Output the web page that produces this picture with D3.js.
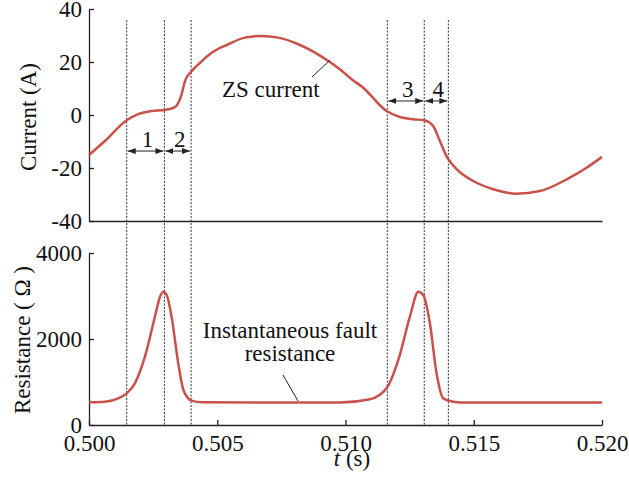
<!DOCTYPE html>
<html>
<head>
<meta charset="utf-8">
<script src="https://cdn.jsdelivr.net/npm/d3@7"></script>
<style>
  body { margin: 0; background: #fff; }
</style>
</head>
<body>
<div id="vis"></div>
<script>
/* data: zero-sequence current (A) */
let currentT = [0.5000, 0.50062, 0.50147, 0.50192, 0.50244, 0.50294, 0.50335, 0.50361,
  0.50374, 0.50398, 0.50433, 0.50478, 0.50543, 0.50608, 0.50673, 0.50738, 0.50816,
  0.50933, 0.50979, 0.51024, 0.51069, 0.51160, 0.51212, 0.51264, 0.51307, 0.51342,
  0.51368, 0.51397, 0.51434, 0.51498, 0.51576, 0.51667, 0.51758, 0.51862, 0.51940, 0.52000];
let currentA = [-15.1, -9.8, -2.0, 0.3, 1.5, 1.9, 3.0, 7.8,
  12.8, 16.3, 19.7, 23.5, 26.7, 29.2, 29.8, 29.2, 26.7,
  20.4, 17.2, 13.5, 10.3, 1.5, -0.75, -1.6, -2.0, -4.2,
  -9.8, -16.1, -20.5, -24.9, -28.0, -29.7, -28.7, -24.3, -19.9, -15.8];

/* data: instantaneous fault resistance (ohm) */
let resistT = [0.5000, 0.50062, 0.50114, 0.50147, 0.50179, 0.50218, 0.50257, 0.50277,
  0.50290, 0.50303, 0.50322, 0.50348, 0.50368, 0.50400, 0.50440, 0.50979, 0.51095,
  0.51160, 0.51206, 0.51251, 0.51284, 0.51303, 0.51329, 0.51355, 0.51381, 0.51420,
  0.51450, 0.52000];
let resistOhm = [528, 542, 620, 737, 970, 1588, 2519, 2984,
  3100, 3023, 2519, 1434, 814, 566, 528, 522, 597,
  853, 1512, 2519, 3100, 3023, 2365, 1202, 620, 542,
  525, 525];

/* stage boundaries and labels */
let boundaries = [0.50147, 0.50294, 0.50398, 0.51163, 0.51307, 0.51401];
let stageLabels = ["1", "2", "3", "4"];
let stageSpans = [[0, 1], [1, 2], [3, 4], [4, 5]];

/* ticks */
let currentTicks = [-40, -20, 0, 20, 40];
let resistTicks = [0, 2000, 4000];
let timeTicks = [0.500, 0.505, 0.510, 0.515, 0.520];

/* display */
let width = 629, height = 479;
let lineColor = "#c9514a";
let font = "'Liberation Serif', 'Times New Roman', serif";
let fontSize = 23;

/* scales */
let x = d3.scaleLinear().domain([0.5, 0.52]).range([89, 602]);
let yI = d3.scaleLinear().domain([-40, 40]).range([221, 9]);
let yR = d3.scaleLinear().domain([0, 4000]).range([425, 253]);

let svg = d3.select("#vis").append("svg")
  .attr("width", width)
  .attr("height", height)
  .style("font-family", font);

/* arrow heads */
svg.append("defs").append("marker")
  .attr("id", "head")
  .attr("viewBox", "0 0 8 6")
  .attr("refX", 8).attr("refY", 3)
  .attr("markerWidth", 8).attr("markerHeight", 6)
  .attr("markerUnits", "userSpaceOnUse")
  .attr("orient", "auto-start-reverse")
  .append("path")
    .attr("d", "M0,0L8,3L0,6Z")
    .attr("fill", "#222");

function styleAxis (g) {
  g.select(".domain").attr("stroke", "#222").attr("stroke-width", 1.3);
  g.selectAll(".tick line").attr("stroke", "#222").attr("stroke-width", 1.3);
  g.selectAll(".tick text")
    .attr("fill", "#111")
    .attr("font-family", font)
    .attr("font-size", fontSize);
}

/* plain hyphen minus, no thousands separator */
let plain = d => String(d);

/* top panel axes */
svg.append("g")
  .attr("transform", "translate(89,0)")
  .call(d3.axisLeft(yI).tickValues(currentTicks).tickFormat(plain)
    .tickSizeInner(-5).tickSizeOuter(0).tickPadding(7))
  .call(styleAxis);
svg.append("g")
  .attr("transform", "translate(0,221)")
  .call(d3.axisBottom(x).tickValues([]).tickSizeOuter(0))
  .call(styleAxis);

/* bottom panel axes */
svg.append("g")
  .attr("transform", "translate(89,0)")
  .call(d3.axisLeft(yR).tickValues(resistTicks).tickFormat(plain)
    .tickSizeInner(-5).tickSizeOuter(0).tickPadding(7))
  .call(styleAxis);
svg.append("g")
  .attr("transform", "translate(0,425)")
  .call(d3.axisBottom(x).tickValues(timeTicks).tickFormat(d3.format(".3f"))
    .tickSizeInner(-5).tickSizeOuter(0).tickPadding(10))
  .call(styleAxis);

/* dashed boundaries */
svg.append("g").selectAll("line")
  .data(boundaries)
  .join("line")
    .attr("x1", d => x(d)).attr("x2", d => x(d))
    .attr("y1", 20).attr("y2", 425)
    .attr("stroke", "#333")
    .attr("stroke-width", 1)
    .attr("stroke-dasharray", "2,1.5");

/* curves */
let lineI = d3.line()
  .curve(d3.curveMonotoneX)
  .x(d => x(d[0]))
  .y(d => yI(d[1]));
let lineR = d3.line()
  .curve(d3.curveMonotoneX)
  .x(d => x(d[0]))
  .y(d => yR(d[1]));

svg.append("path")
  .attr("d", lineI(d3.zip(currentT, currentA)))
  .attr("fill", "none")
  .attr("stroke", lineColor)
  .attr("stroke-width", 2.5);
svg.append("path")
  .attr("d", lineR(d3.zip(resistT, resistOhm)))
  .attr("fill", "none")
  .attr("stroke", lineColor)
  .attr("stroke-width", 2.5);

/* stage arrows: first two at -13.6 A, last two at 5.3 A */
let arrowLevels = [-13.6, -13.6, 5.3, 5.3];
let stages = svg.append("g").selectAll("g")
  .data(stageSpans.map((s, i) => ({ a: boundaries[s[0]], b: boundaries[s[1]], lvl: arrowLevels[i], text: stageLabels[i] })))
  .join("g");
stages.append("line")
  .attr("x1", d => x(d.a) + 1).attr("x2", d => x(d.b) - 1)
  .attr("y1", d => yI(d.lvl)).attr("y2", d => yI(d.lvl))
  .attr("stroke", "#222")
  .attr("stroke-width", 1)
  .attr("marker-start", "url(#head)")
  .attr("marker-end", "url(#head)");
stages.append("text")
  .attr("x", d => (x(d.a) + x(d.b)) / 2 + 2)
  .attr("y", d => yI(d.lvl) - 4)
  .attr("text-anchor", "middle")
  .attr("font-size", fontSize)
  .attr("fill", "#111")
  .text(d => d.text);

/* annotations */
svg.append("line")
  .attr("x1", 312).attr("y1", 77).attr("x2", 330).attr("y2", 60)
  .attr("stroke", "#222").attr("stroke-width", 1);
svg.append("text")
  .attr("x", 222).attr("y", 97)
  .attr("font-size", fontSize).attr("fill", "#111")
  .text("ZS current");

svg.append("line")
  .attr("x1", 283).attr("y1", 375).attr("x2", 298).attr("y2", 401)
  .attr("stroke", "#222").attr("stroke-width", 1);
let ann = svg.append("text")
  .attr("text-anchor", "middle")
  .attr("font-size", fontSize).attr("fill", "#111");
ann.append("tspan").attr("x", 290).attr("y", 338).text("Instantaneous fault");
ann.append("tspan").attr("x", 290).attr("y", 361).text("resistance");

/* axis labels */
svg.append("text")
  .attr("transform", "translate(36,117) rotate(-90)")
  .attr("text-anchor", "middle")
  .attr("font-size", fontSize).attr("fill", "#111")
  .text("Current (A)");
svg.append("text")
  .attr("transform", "translate(30,340) rotate(-90)")
  .attr("text-anchor", "middle")
  .attr("font-size", fontSize).attr("fill", "#111")
  .text("Resistance ( \u03a9 )");
let xl = svg.append("text")
  .attr("x", 352).attr("y", 466)
  .attr("text-anchor", "middle")
  .attr("font-size", fontSize).attr("fill", "#111");
xl.append("tspan").attr("font-style", "italic").text("t");
xl.append("tspan").text(" (s)");
</script>
</body>
</html>
